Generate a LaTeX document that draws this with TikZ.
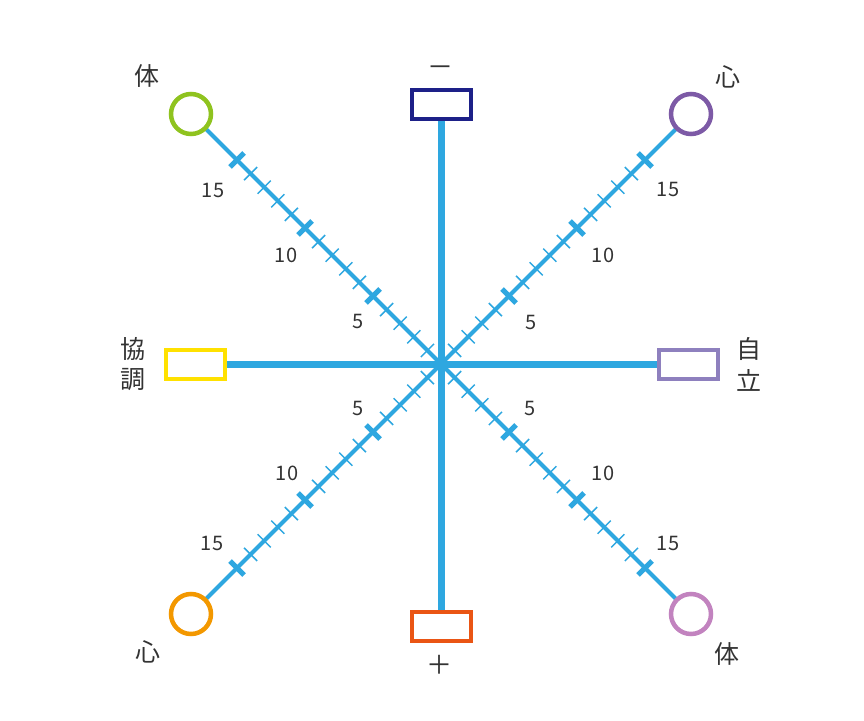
\documentclass[tikz,border=0pt]{standalone}
\usepackage{fontspec}
\setmainfont{Noto Sans CJK JP}
\definecolor{axisblue}{HTML}{2EA7E0}
\definecolor{navy}{HTML}{1D2088}
\definecolor{yel}{HTML}{FFE100}
\definecolor{lav}{HTML}{8E80BE}
\definecolor{orng}{HTML}{EA5514}
\definecolor{grn}{HTML}{8FC31F}
\definecolor{purp}{HTML}{7D5AA6}
\definecolor{amber}{HTML}{F39800}
\definecolor{pink}{HTML}{C283BF}
\definecolor{txt}{HTML}{333333}
\begin{document}
\begin{tikzpicture}[x=1pt,y=-1pt,
  box/.style={draw, line width=4pt, fill=white, minimum width=59pt, minimum height=29pt, inner sep=0pt, outer sep=0pt},
  ring/.style={draw, circle, line width=4.5pt, fill=white, minimum size=40pt, inner sep=0pt, outer sep=0pt},
  mainaxis/.style={axisblue, line width=7pt},
  diag/.style={axisblue, line width=4pt},
  minortick/.style={axisblue, line width=1.5pt},
  majortick/.style={axisblue, line width=5pt},
  kanji/.style={text=txt, font=\fontsize{25}{25}\selectfont, inner sep=0pt},
  sign/.style={text=txt, font=\fontsize{26}{26}\selectfont, inner sep=0pt},
  num/.style={text=txt, font=\fontsize{20}{20}\selectfont, inner sep=0pt}]
\useasboundingbox (0,0) rectangle (864,720);
\coordinate (C) at (441,364);
% lines
\coordinate (pT) at (441,104);
\coordinate (pB) at (441,626);
\coordinate (pL) at (195,364);
\coordinate (pR) at (688,364);
\coordinate (pUL) at (191,114);
\coordinate (pUR) at (691,114);
\coordinate (pLL) at (191,614);
\coordinate (pLR) at (691,614);
\draw[mainaxis] (pT) -- (pB);
\draw[mainaxis] (pL) -- (pR);
\draw[diag] (pUL) -- (pLR);
\draw[diag] (pUR) -- (pLL);
% ticks
\foreach \a/\b in {-1/-1,1/-1,-1/1,1/1}{
  \foreach \t in {1,...,15}{
    \draw[minortick] ([shift={(\a*13.6*\t+\b*6.6,\b*13.6*\t-\a*6.6)}]C) -- ([shift={(\a*13.6*\t-\b*6.6,\b*13.6*\t+\a*6.6)}]C);
  }
  \foreach \t in {5,10,15}{
    \draw[majortick] ([shift={(\a*13.6*\t+\b*7,\b*13.6*\t-\a*7)}]C) -- ([shift={(\a*13.6*\t-\b*7,\b*13.6*\t+\a*7)}]C);
  }
}
% end shapes
\node[box, draw=navy] (top) at (pT) {};
\node[box, draw=orng] (bot) at (pB) {};
\node[box, draw=yel] (lft) at (pL) {};
\node[box, draw=lav] (rgt) at (pR) {};
\node[ring, draw=grn] (ul) at (pUL) {};
\node[ring, draw=purp] (ur) at (pUR) {};
\node[ring, draw=amber] (ll) at (pLL) {};
\node[ring, draw=pink] (lr) at (pLR) {};
% texts
\node[sign] (tMinus) at (440,71) {－};
\node[sign] (tPlus) at (439.5,665) {＋};
\node[kanji] (tUL) at (147,76) {体};
\node[kanji] (tUR) at (728,77) {心};
\node[kanji] (tLL) at (148,652) {心};
\node[kanji] (tLR) at (727,654) {体};
\node[kanji] (tK1) at (133,349) {協};
\node[kanji] (tK2) at (133,380) {調};
\node[kanji] (tJ1) at (749,349) {自};
\node[kanji] (tJ2) at (749,380) {立};
% numbers
\node[num] (n1) at (213,190) {15};
\node[num] (n2) at (286,255) {10};
\node[num] (n3) at (358,321) {5};
\node[num] (n4) at (668,189) {15};
\node[num] (n5) at (603,255) {10};
\node[num] (n6) at (531,322) {5};
\node[num] (n7) at (358,408) {5};
\node[num] (n8) at (287,473) {10};
\node[num] (n9) at (212,543) {15};
\node[num] (n10) at (530.5,408.5) {5};
\node[num] (n11) at (603,473) {10};
\node[num] (n12) at (668,543) {15};
\end{tikzpicture}
\end{document}
